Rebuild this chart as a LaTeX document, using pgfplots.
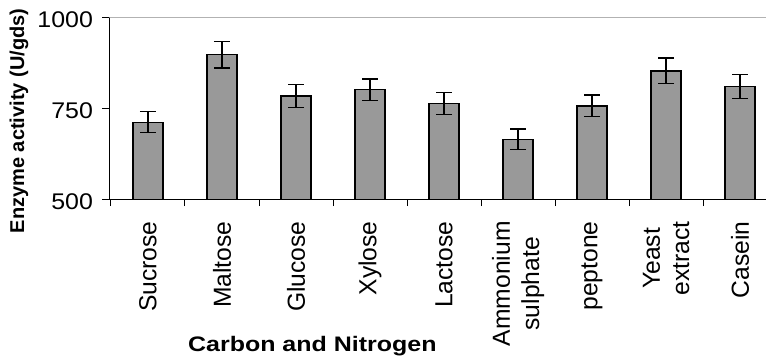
\documentclass[border=0pt]{standalone}
\usepackage{pgfplots}
\pgfplotsset{compat=1.18}
\usepackage{fontspec}
\setmainfont{Liberation Sans}
\newfontfamily\stretchfont[FakeStretch=1.1]{Liberation Sans}
\newfontfamily\xlabfont[FakeStretch=1.19]{Liberation Sans}
\definecolor{barfill}{RGB}{153,153,153}
\begin{document}
\begin{tikzpicture}
\begin{axis}[
  name=ax,
  scale only axis,
  width=492.4pt, height=136.65pt,
  xmin=-0.52, xmax=8.35,
  ymin=500, ymax=1000,
  axis x line*=bottom, axis y line*=left,
  axis line style={black, line width=1pt},
  ybar, bar width=0.405,
  xtick={0,...,8},
  xticklabels={Sucrose,Maltose,Glucose,Xylose,Lactose,{Ammonium\\sulphate},peptone,{Yeast\\extract},Casein},
  major x tick style={draw=none},
  minor xtick={-0.5,0.5,...,7.5},
  xticklabel style={rotate=90, anchor=east, align=center, inner sep=0pt,
    font=\fontsize{18.5}{22}\selectfont},
  xticklabel shift=11pt,
  ytick={500,750,1000},
  yticklabels={500,750,1000},
  yticklabel style={font=\stretchfont\fontsize{17}{19}\selectfont, inner sep=0pt, yshift=-2pt},
  yticklabel shift=7pt,
  tick align=outside,
  major tick length=5.25pt, minor tick length=5pt,
  tick style={black, line width=0.75pt},
  ylabel={Enzyme activity (U/gds)},
  ylabel style={at={(axis description cs:-0.1379,0.431)}, anchor=center,
    font=\bfseries\fontsize{15}{17}\selectfont},
  xlabel={Carbon and Nitrogen},
  xlabel style={at={(axis description cs:0.309,-0.837)}, anchor=base,
    font=\xlabfont\bfseries\fontsize{15.75}{18}\selectfont},
  error bars/y dir=both, error bars/y explicit,
  error bars/error bar style={line width=1pt, black},
  error bars/error mark options={rotate=90, line width=1pt, mark size=6pt, black},
]
\addplot[fill=barfill, draw=black, line width=1pt]
  table[x=x, y=y, y error=e] {
x y e
0 712 29
1 897 36
2 784 32
3 801 30
4 764 30
5 665 28
6 757 30
7 853 35
8 810 33
};
\draw[gray!60, line width=1pt] (rel axis cs:0,1) -- (rel axis cs:1,1);
\end{axis}
\pgfresetboundingbox
\path[use as bounding box] ([xshift=-82.125pt,yshift=-118.875pt]ax.south west) rectangle ([yshift=12.975pt]ax.north east);
\end{tikzpicture}
\end{document}
